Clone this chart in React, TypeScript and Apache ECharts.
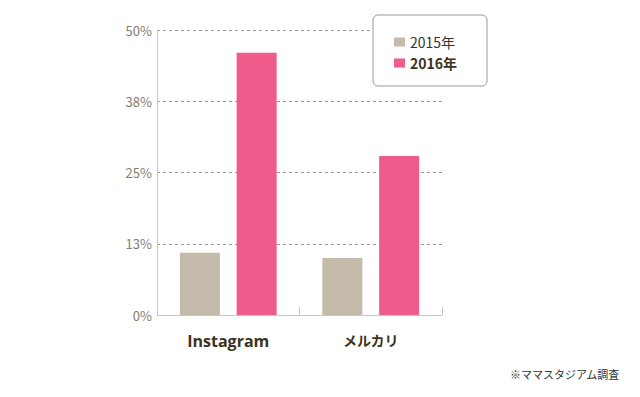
import React, { useEffect, useRef } from "react";
import * as echarts from "echarts";

const categories = ["Instagram", "メルカリ"];
const seriesNames = ["2015年", "2016年"];
const values2015 = [10.9, 10.0];
const values2016 = [46.0, 27.9];
const yTicks = [0, 12.5, 25, 37.5, 50];
const footnote = "※ママスタジアム調査";

export default function App() {
  const ref = useRef<HTMLDivElement>(null);
  useEffect(() => {
    const chart = echarts.init(ref.current!, null, { renderer: "svg" });
    chart.setOption({
      animation: false,
      textStyle: { fontFamily: "Noto Sans CJK JP, Noto Sans, sans-serif" },
      grid: { left: 157, right: 198, top: 30, bottom: 82 },
      legend: {
        orient: "vertical",
        left: 373,
        top: 15,
        width: 114,
        padding: [20, 30, 16, 21],
        itemGap: 7,
        itemWidth: 11,
        itemHeight: 9,
        icon: "rect",
        backgroundColor: "#fff",
        borderColor: "#9a9a9a",
        borderWidth: 1,
        borderRadius: 5,
        data: seriesNames,
        formatter: (n: string) => (n === "2016年" ? "{b|" + n + "}" : "{a|" + n + "}"),
        textStyle: {
          rich: {
            a: { fontSize: 14, color: "#3b3222", fontWeight: "normal", fontFamily: "Noto Sans CJK JP" },
            b: { fontSize: 14, color: "#3b3222", fontWeight: "bold", fontFamily: "Noto Sans CJK JP" },
          },
        },
      },
      xAxis: {
        type: "category",
        data: categories,
        axisLine: { lineStyle: { color: "#c8c8c8", width: 1 } },
        axisTick: { show: true, inside: true, length: 8, lineStyle: { color: "#c8c8c8" } },
        axisLabel: {
          margin: 18,
          color: "#3b3222",
          formatter: (v: string) => (/^[A-Za-z]/.test(v) ? "{l|" + v + "}" : "{j|" + v + "}"),
          rich: {
            l: { fontSize: 16, fontWeight: "bold", color: "#3b3222", fontFamily: "Open Sans" },
            j: { fontSize: 14, fontWeight: "bold", color: "#3b3222", fontFamily: "Noto Sans CJK JP" },
          },
        },
      },
      yAxis: {
        type: "value",
        min: 0,
        max: 50,
        interval: 12.5,
        axisLine: { show: true, lineStyle: { color: "#c8c8c8", width: 1 } },
        axisTick: { show: false },
        axisLabel: {
          margin: 5,
          fontSize: 13,
          color: "#857c6f",
          fontFamily: "Noto Sans CJK JP",
          formatter: (v: number) => (yTicks.includes(v) ? Math.round(v) + "%" : ""),
        },
        splitLine: { show: true, lineStyle: { color: "#9a9a9a", type: [3, 3], width: 1 } },
      },
      series: [
        {
          name: seriesNames[0],
          type: "bar",
          data: values2015,
          barWidth: 40,
          barGap: "42%",
          itemStyle: { color: "#c4baa9" },
        },
        {
          name: seriesNames[1],
          type: "bar",
          data: values2016,
          barWidth: 40,
          itemStyle: { color: "#ef5b8b" },
        },
      ],
      graphic: [
        {
          type: "text",
          right: 20,
          top: 368,
          style: { text: footnote, fontSize: 11, fill: "#333", fontFamily: "Noto Sans CJK JP" },
        },
      ],
    });
    return () => chart.dispose();
  }, []);
  return <div ref={ref} style={{ width: 640, height: 397, position: "absolute", left: 0, top: 0 }} />;
}
